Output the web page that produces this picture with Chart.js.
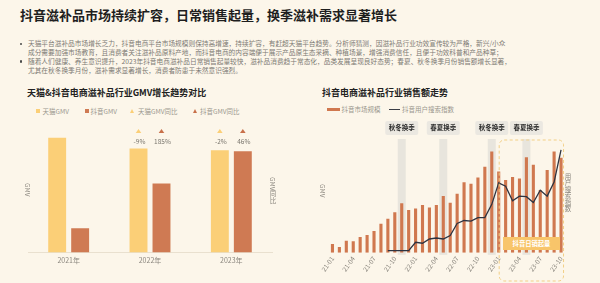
<!DOCTYPE html>
<html><head><meta charset="utf-8">
<script src="https://cdn.jsdelivr.net/npm/chart.js@4.4.1/dist/chart.umd.min.js"></script>
<style>
html,body{margin:0;padding:0;}
body{width:600px;height:283px;position:relative;overflow:hidden;background:#fcf6ea;font-family:"Noto Sans CJK SC","Noto Sans",sans-serif;}
.abs{position:absolute;white-space:nowrap;}
#title{left:20px;top:6px;font-size:13px;font-weight:bold;color:#1e1e1e;line-height:18px;}
#para{left:28px;top:39px;font-size:6.7px;line-height:8.9px;color:#7d7a74;}
.dot{width:2.6px;height:2.6px;border-radius:50%;background:#4a4a4a;}
.sub{font-size:9px;font-weight:bold;color:#222;line-height:12px;}
.leg{font-size:6.5px;color:#9a968e;line-height:8px;}
.sq{width:4px;height:4px;}
.tri{width:0;height:0;border-left:2.6px solid transparent;border-right:2.6px solid transparent;}
.vt{writing-mode:vertical-rl;font-size:6.5px;color:#8a867e;line-height:8px;}
#badge{left:503px;top:237px;width:57px;height:13px;background:#f8c56a;color:#fff;font-size:6.3px;font-weight:bold;text-align:center;line-height:13px;}
</style></head>
<body>
<div id="title" class="abs">抖音滋补品市场持续扩容，日常销售起量，换季滋补需求显著增长</div>
<div class="abs dot" style="left:19.5px;top:42.5px"></div>
<div class="abs dot" style="left:19.5px;top:60.3px"></div>
<div id="para" class="abs">天猫平台滋补品市场增长乏力，抖音电商平台市场规模则保持高增速，持续扩容，有赶超天猫平台趋势。分析师猜测，因滋补品行业功效宣传较为严格，新兴/小众<br>成分需要加强市场教育，且消费者关注滋补品原料产地，而抖音电商的内容端便于展示产品原生态采摘、种植场景，增强消费信任，且便于功效科普和产品种草；<br>随着人们健康、养生意识提升，2023年抖音电商滋补品日常销售起量较快，滋补品消费趋于常态化，品类发展呈现良好态势；春夏、秋冬换季月份销售额增长显著，<br>尤其在秋冬换季月份，滋补需求显著增长，消费者防患于未然意识强烈。</div>

<div class="abs sub" style="left:27px;top:87px">天猫&amp;抖音电商滋补品行业GMV增长趋势对比</div>
<div class="abs sub" style="left:322px;top:87px">抖音电商滋补品行业销售额走势</div>

<!-- left legend -->
<div class="abs sq" style="left:36px;top:108.7px;background:#fbcf77"></div>
<div class="abs leg" style="left:42.5px;top:106.7px">天猫GMV</div>
<div class="abs sq" style="left:85px;top:108.7px;background:#cf7a53"></div>
<div class="abs leg" style="left:90.5px;top:106.7px">抖音GMV</div>
<div class="abs tri" style="left:129.5px;top:108.5px;border-bottom:4px solid #fbcf77"></div>
<div class="abs leg" style="left:138px;top:106.7px">天猫GMV同比</div>
<div class="abs tri" style="left:192.8px;top:108.5px;border-bottom:4px solid #c8704a"></div>
<div class="abs leg" style="left:200px;top:106.7px">抖音GMV同比</div>

<!-- right legend -->
<div class="abs" style="left:327px;top:107.5px;width:12.5px;height:3.5px;background:#d0784f"></div>
<div class="abs leg" style="left:341.5px;top:105.3px">抖音市场规模</div>
<div class="abs" style="left:388.5px;top:108.5px;width:11.5px;height:1.4px;background:#3a3d46"></div>
<div class="abs leg" style="left:402px;top:105.3px">抖音用户搜索指数</div>

<div class="abs" style="left:0;top:118px;width:300px;height:165px"><canvas id="c1" width="300" height="165"></canvas></div>
<div class="abs" style="left:300px;top:115px;width:300px;height:168px"><canvas id="c2" width="300" height="168"></canvas></div>

<div class="abs vt" style="left:24px;top:183px">GMV</div>
<div class="abs vt" style="left:269px;top:177px">GMV同比</div>
<div class="abs vt" style="left:319px;top:184px">GMV</div>
<div class="abs vt" style="left:564px;top:173px">用户搜索指数</div>
<div id="badge" class="abs">抖音日销起量</div>

<script>
// ---- Left chart data ----
const years = ['2021年', '2022年', '2023年'];
const tmallGMV = [118, 107, 105];
const douyinGMV = [25, 71, 104];
const tmallYoY = [null, -9, -2];
const douyinYoY = [null, 185, 46];

// ---- Right chart data ----
const months = ['21-01','21-02','21-03','21-04','21-05','21-06','21-07','21-08','21-09','21-10','21-11','21-12',
                '22-01','22-02','22-03','22-04','22-05','22-06','22-07','22-08','22-09','22-10','22-11','22-12',
                '23-01','23-02','23-03','23-04','23-05','23-06','23-07','23-08','23-09','23-10'];
const douyinSales = [9, 6, 12.3, 11.7, 16, 18, 22, 29.5, 34.5, 41, 50, 43.3,
                     44.7, 48.3, 45.7, 48.3, 57.5, 50.7, 59.7, 71.3, 69.7, 76, 87, 102.3,
                     82.3, 73.7, 76.7, 75, 96.5, 89, 63.5, 83.7, 102.3, 96];
const searchIndex = [null, null, null, null, null, null, null, null, 2.3, 2.3, 2.3, 2.3,
                     10.7, 9.7, 14, 15, 14, 17.5, 29.7, 32.7, 32, 35.5, 35.7, 49,
                     70.7, 67.3, 52.5, 57.3, 56.7, 50.8, 63.2, 57.3, 71.5, 104];
const seasonIdx = [10, 16, 23, 28];
const seasonLabels = ['秋冬换季', '春夏换季', '秋冬换季', '春夏换季'];
const highlightFrom = '23-01', highlightTo = '23-10';

Chart.defaults.font.family = '"Noto Sans CJK SC","Noto Sans",sans-serif';
Chart.defaults.animation = false;

const yoyPlugin = {
  id: 'yoy',
  afterDatasetsDraw(chart) {
    const ctx = chart.ctx, top = chart.chartArea.top;
    const sets = [[0, tmallYoY, '#fbcf77'], [1, douyinYoY, '#c8704a']];
    ctx.save();
    sets.forEach(([di, arr, col]) => {
      const meta = chart.getDatasetMeta(di);
      arr.forEach((v, i) => {
        if (v === null) return;
        const x = meta.data[i].x;
        ctx.fillStyle = col;
        ctx.beginPath();
        ctx.moveTo(x - 2.8, top + 7); ctx.lineTo(x + 2.8, top + 7); ctx.lineTo(x, top + 3);
        ctx.closePath(); ctx.fill();
        ctx.fillStyle = '#7a766e';
        ctx.font = '6.5px "Noto Sans CJK SC"';
        ctx.textAlign = 'center'; ctx.textBaseline = 'middle';
        ctx.fillText(v + '%', x + 1, top + 15.5);
      });
    });
    ctx.restore();
  }
};

new Chart(document.getElementById('c1'), {
  type: 'bar',
  data: {
    labels: years,
    datasets: [
      { label: '天猫GMV', data: tmallGMV, backgroundColor: '#fbcf77', categoryPercentage: 0.565, barPercentage: 0.78 },
      { label: '抖音GMV', data: douyinGMV, backgroundColor: '#cf7a53', categoryPercentage: 0.565, barPercentage: 0.78 }
    ]
  },
  options: {
    responsive: false, devicePixelRatio: 1,
    layout: { padding: { left: 28, right: 28, top: 8, bottom: 14 } },
    plugins: { legend: { display: false }, tooltip: { enabled: false } },
    scales: {
      x: { grid: { display: false, drawTicks: false }, border: { color: '#e9e0cf', width: 1 },
           ticks: { color: '#8a867e', font: { size: 7 }, padding: 4 } },
      y: { display: false, min: 0, max: 130 }
    }
  },
  plugins: [yoyPlugin]
});

const seasonPlugin = {
  id: 'season',
  beforeDatasetsDraw(chart) {
    const ctx = chart.ctx, ca = chart.chartArea, xs = chart.scales.x;
    ctx.save();
    ctx.fillStyle = '#e8e5dd';
    seasonIdx.forEach(i => {
      const x = xs.getPixelForValue(i);
      ctx.fillRect(x - 4, ca.top - 1, 8, ca.bottom - ca.top + 3);
    });
    ctx.restore();
  },
  afterDraw(chart) {
    const ctx = chart.ctx, ca = chart.chartArea, xs = chart.scales.x;
    ctx.save();
    seasonIdx.forEach((i, k) => {
      const x = xs.getPixelForValue(i);
      ctx.fillStyle = '#ebe8e1';
      ctx.beginPath(); ctx.roundRect(x - 16.5, ca.top - 19, 33, 14, 2); ctx.fill();
      ctx.fillStyle = '#2b2b2b';
      ctx.font = 'bold 6.5px "Noto Sans CJK SC"';
      ctx.textAlign = 'center'; ctx.textBaseline = 'middle';
      ctx.fillText(seasonLabels[k], x, ca.top - 12);
    });
    const x0 = xs.getPixelForValue(months.indexOf(highlightFrom)) + 0.5;
    const x1 = xs.getPixelForValue(months.indexOf(highlightTo)) + 2.5;
    ctx.strokeStyle = '#f2cf86'; ctx.lineWidth = 1; ctx.setLineDash([3, 2.5]);
    ctx.beginPath(); ctx.roundRect(x0, ca.top, x1 - x0, chart.height - ca.top - 2, 5); ctx.stroke();
    ctx.restore();
  }
};

new Chart(document.getElementById('c2'), {
  data: {
    labels: months,
    datasets: [
      { type: 'line', label: '抖音用户搜索指数', data: searchIndex, yAxisID: 'y2', borderColor: '#2e3340',
        borderWidth: 1.3, pointRadius: 0, tension: 0, spanGaps: false },
      { type: 'bar', label: '抖音市场规模', data: douyinSales, backgroundColor: '#d0784f',
        categoryPercentage: 1, barPercentage: 0.45 }
    ]
  },
  options: {
    responsive: false, devicePixelRatio: 1,
    layout: { padding: { left: 29, right: 35.5, top: 25, bottom: 8 } },
    plugins: { legend: { display: false }, tooltip: { enabled: false } },
    scales: {
      x: { grid: { display: false, drawTicks: false }, border: { display: false },
           ticks: { autoSkip: false, minRotation: 55, maxRotation: 55, color: '#8a867e', font: { size: 6.5 }, padding: 2,
                    callback: (v, i) => (i % 3 === 0 ? months[i] : '') } },
      y: { display: false, min: 0, max: 114 },
      y2: { display: false, min: 0, max: 114 }
    }
  },
  plugins: [seasonPlugin]
});
</script>
</body></html>
